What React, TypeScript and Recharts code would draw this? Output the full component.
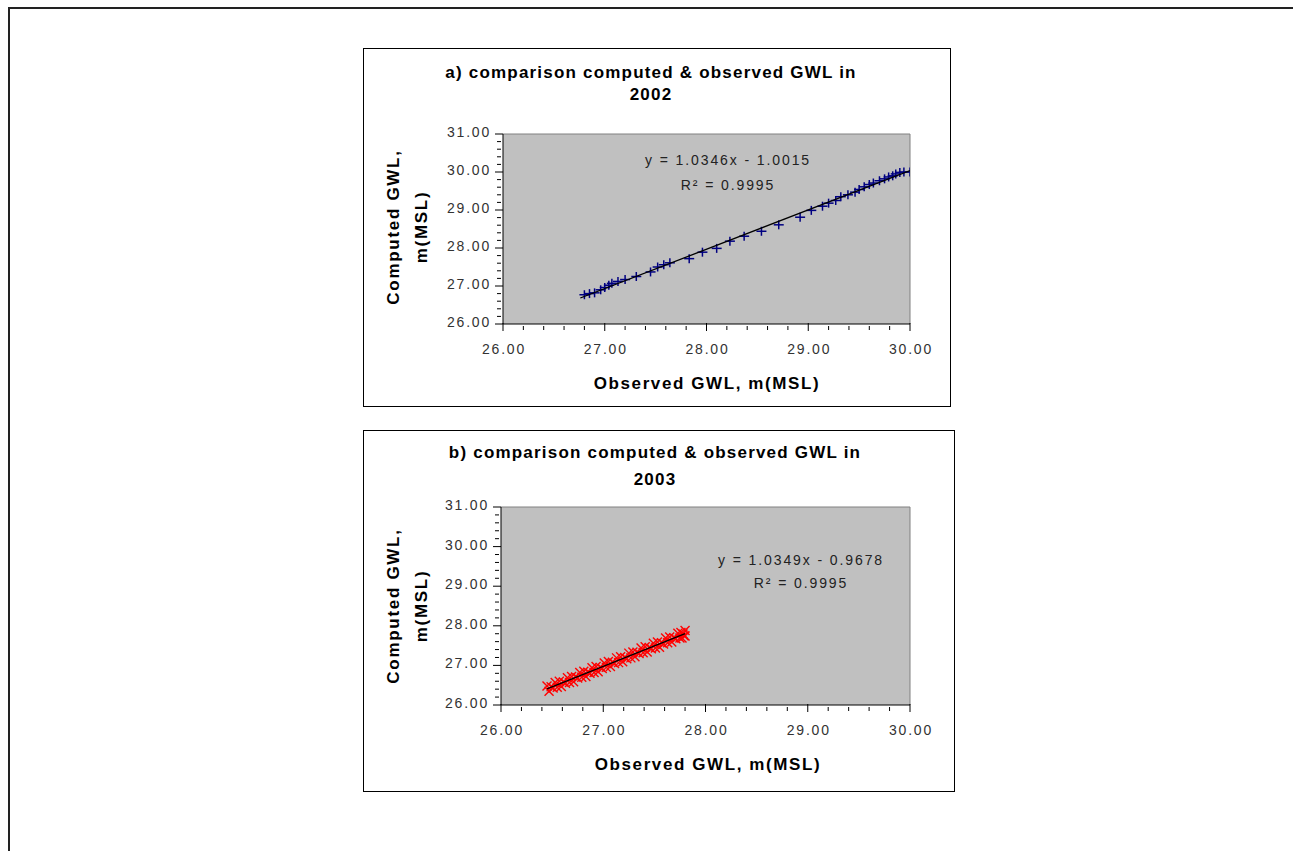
import { CartesianGrid, ReferenceLine, Scatter, ScatterChart, XAxis, YAxis } from 'recharts'

// 2002 observed vs computed groundwater level, m(MSL)
const OBSERVED_2002 = [
  26.8, 26.85, 26.9, 26.96, 27.0, 27.04, 27.07, 27.13, 27.2, 27.31, 27.45, 27.52, 27.58, 27.64,
  27.83, 27.96, 28.1, 28.23, 28.37, 28.54, 28.71, 28.92, 29.03, 29.14, 29.2, 29.27, 29.32, 29.39,
  29.46, 29.5, 29.55, 29.6, 29.64, 29.7, 29.75, 29.79, 29.83, 29.86, 29.9, 29.94, 30.0,
]
const COMPUTED_2002 = [
  26.77, 26.8, 26.82, 26.9, 26.96, 27.02, 27.07, 27.12, 27.17, 27.25, 27.37, 27.5, 27.56, 27.61,
  27.72, 27.89, 27.99, 28.18, 28.31, 28.44, 28.61, 28.81, 28.99, 29.1, 29.18, 29.25, 29.35, 29.4,
  29.47, 29.54, 29.61, 29.67, 29.71, 29.77, 29.82, 29.87, 29.9, 29.95, 29.99, 30.0, 30.0,
]

// 2003 observed vs computed groundwater level, m(MSL)
const OBSERVED_2003 = [
  26.45, 26.47, 26.49, 26.51, 26.53, 26.55, 26.57, 26.59, 26.61, 26.63, 26.65, 26.67, 26.69, 26.71,
  26.73, 26.75, 26.77, 26.79, 26.81, 26.83, 26.85, 26.87, 26.89, 26.91, 26.93, 26.95, 26.97, 26.99,
  27.01, 27.03, 27.05, 27.07, 27.09, 27.11, 27.13, 27.15, 27.17, 27.19, 27.21, 27.23, 27.25, 27.27,
  27.29, 27.31, 27.33, 27.35, 27.37, 27.39, 27.41, 27.43, 27.45, 27.47, 27.49, 27.51, 27.53, 27.55,
  27.57, 27.59, 27.61, 27.63, 27.65, 27.67, 27.69, 27.71, 27.73, 27.75, 27.76, 27.77, 27.78, 27.79,
  27.8, 27.8,
]
const COMPUTED_2003 = [
  26.48, 26.35, 26.46, 26.43, 26.57, 26.45, 26.6, 26.47, 26.58, 26.55, 26.69, 26.57, 26.72, 26.59,
  26.71, 26.68, 26.82, 26.7, 26.85, 26.72, 26.83, 26.8, 26.94, 26.82, 26.97, 26.84, 26.95, 26.92,
  27.06, 26.95, 27.1, 26.97, 27.08, 27.05, 27.19, 27.07, 27.22, 27.09, 27.2, 27.17, 27.31, 27.19,
  27.34, 27.22, 27.33, 27.3, 27.44, 27.32, 27.47, 27.34, 27.45, 27.42, 27.56, 27.44, 27.59, 27.46,
  27.57, 27.54, 27.69, 27.57, 27.72, 27.59, 27.7, 27.67, 27.81, 27.69, 27.83, 27.69, 27.79, 27.75,
  27.88, 27.74,
]

// linear trend lines: [slope, intercept, xStart, xEnd]
const TREND_2002 = [1.0346, -1.0015, 26.76, 30.0]
const TREND_2003 = [1.0349, -0.9678, 26.45, 27.8]

const X_TICKS = [
  26, 26.2, 26.4, 26.6, 26.8, 27, 27.2, 27.4, 27.6, 27.8, 28, 28.2, 28.4, 28.6, 28.8, 29, 29.2,
  29.4, 29.6, 29.8, 30,
]
const Y_TICKS = [
  26, 26.2, 26.4, 26.6, 26.8, 27, 27.2, 27.4, 27.6, 27.8, 28, 28.2, 28.4, 28.6, 28.8, 29, 29.2,
  29.4, 29.6, 29.8, 30, 30.2, 30.4, 30.6, 30.8, 31,
]

const FONT = '"Liberation Sans", Arial, sans-serif'
const TICK_STYLE = { fontFamily: FONT, fontSize: 14, letterSpacing: 1.8, fill: '#333' }

function toPoints(xs: number[], ys: number[]) {
  return xs.map((x, i) => ({ x, y: ys[i] }))
}

function trendSegment([slope, intercept, x1, x2]: number[]) {
  return [
    { x: x1, y: slope * x1 + intercept },
    { x: x2, y: slope * x2 + intercept },
  ]
}

function isMajor(value: number) {
  return Math.abs(value - Math.round(value)) < 0.001
}

function XTick({ x, y, payload }: any) {
  const major = isMajor(payload.value)
  return (
    <g>
      <line x1={x} x2={x} y1={major ? y - 3 : y} y2={y + (major ? 5 : 4)} stroke="#000" />
      {major && (
        <text x={x + 1} y={y + 28} textAnchor="middle" style={TICK_STYLE}>
          {payload.value.toFixed(2)}
        </text>
      )}
    </g>
  )
}

function YTick({ x, y, payload }: any) {
  const major = isMajor(payload.value)
  return (
    <g>
      <line x1={x - (major ? 6 : 4)} x2={major ? x + 2 : x} y1={y} y2={y} stroke="#000" />
      {major && (
        <text x={x - 10} y={y + 3} textAnchor="end" style={TICK_STYLE}>
          {payload.value.toFixed(2)}
        </text>
      )}
    </g>
  )
}

function PlusMarker({ cx, cy }: any) {
  return (
    <g stroke="#000080" strokeWidth={1.5}>
      <line x1={cx - 5} x2={cx + 5} y1={cy} y2={cy} />
      <line x1={cx} x2={cx} y1={cy - 4.5} y2={cy + 4.5} />
    </g>
  )
}

function CrossMarker({ cx, cy }: any) {
  return (
    <g stroke="#ff0000" strokeWidth={1.4}>
      <line x1={cx - 4.5} x2={cx + 4.5} y1={cy - 4.5} y2={cy + 4.5} />
      <line x1={cx - 4.5} x2={cx + 4.5} y1={cy + 4.5} y2={cy - 4.5} />
    </g>
  )
}

function NoMarker() {
  return <g />
}

function Text({ x, y, children, bold, size, spacing, rotate }: any) {
  return (
    <div
      style={{
        position: 'absolute',
        left: x,
        top: y,
        transform: `translate(-50%, -50%)${rotate ? ' rotate(-90deg)' : ''}`,
        whiteSpace: 'nowrap',
        fontFamily: FONT,
        fontWeight: bold ? 'bold' : 'normal',
        fontSize: size,
        letterSpacing: spacing,
        color: bold ? '#000' : '#222',
        lineHeight: 1,
      }}
    >
      {children}
    </div>
  )
}

type TPanel = {
  left: number
  top: number
  width: number
  height: number
  margin: { top: number; right: number; bottom: number; left: number }
  title: string
  year: string
  titleX: number
  titleY: [number, number]
  xLabelPos: [number, number]
  yLabelPos: [number, number]
  equation: string
  eqPos: [number, number, number]
  data: { x: number; y: number }[]
  trend: number[]
  shape: any
}

function Panel(p: TPanel) {
  return (
    <div
      style={{
        position: 'absolute',
        left: p.left,
        top: p.top,
        width: p.width,
        height: p.height,
        boxSizing: 'border-box',
        border: '1px solid #000',
        background: '#fff',
      }}
    >
      <div style={{ position: 'absolute', left: 0, top: 0 }}>
        <ScatterChart width={p.width - 2} height={p.height - 2} margin={p.margin}>
          <CartesianGrid fill="#c0c0c0" horizontal={false} vertical={false} />
          <ReferenceLine y={31} stroke="#808080" />
          <ReferenceLine x={30} stroke="#808080" />
          <XAxis
            type="number"
            dataKey="x"
            domain={[26, 30]}
            ticks={X_TICKS}
            interval={0}
            tick={<XTick />}
            tickLine={false}
            tickSize={0}
            axisLine={{ stroke: '#000' }}
            height={30}
            allowDataOverflow
          />
          <YAxis
            type="number"
            dataKey="y"
            domain={[26, 31]}
            ticks={Y_TICKS}
            interval={0}
            tick={<YTick />}
            tickLine={false}
            tickSize={0}
            axisLine={{ stroke: '#000' }}
            width={50}
            allowDataOverflow
          />
          <Scatter data={p.data} shape={p.shape} isAnimationActive={false} />
          <Scatter
            data={trendSegment(p.trend)}
            shape={NoMarker}
            line={{ stroke: '#000', strokeWidth: 1.3 }}
            isAnimationActive={false}
          />
        </ScatterChart>
      </div>
      <Text x={p.titleX} y={p.titleY[0]} bold size={17} spacing={1.2}>
        {p.title}
      </Text>
      <Text x={p.titleX} y={p.titleY[1]} bold size={17} spacing={1.2}>
        {p.year}
      </Text>
      <Text x={p.xLabelPos[0]} y={p.xLabelPos[1]} bold size={17} spacing={1.6}>
        Observed GWL, m(MSL)
      </Text>
      <Text x={p.yLabelPos[0]} y={p.yLabelPos[1]} bold size={17} spacing={1.7} rotate>
        Computed GWL,
      </Text>
      <Text x={p.yLabelPos[0] + 28} y={p.yLabelPos[1]} bold size={17} spacing={1.7} rotate>
        m(MSL)
      </Text>
      <Text x={p.eqPos[0]} y={p.eqPos[1]} size={14} spacing={1.9}>
        {p.equation}
      </Text>
      <Text x={p.eqPos[0]} y={p.eqPos[2]} size={14} spacing={1.9}>
        R² = 0.9995
      </Text>
    </div>
  )
}

export default function App() {
  return (
    <div style={{ position: 'fixed', inset: 0, overflow: 'hidden', background: '#fff' }}>
      <div
        style={{
          position: 'absolute',
          left: 8,
          top: 7,
          right: -10,
          bottom: -10,
          borderTop: '2px solid #222',
          borderLeft: '2px solid #222',
        }}
      />
      <Panel
        left={363}
        top={48}
        width={588}
        height={359}
        margin={{ top: 85, right: 40, bottom: 52, left: 89 }}
        title="a) comparison computed & observed GWL in"
        year="2002"
        titleX={287}
        titleY={[23, 45]}
        xLabelPos={[343, 334]}
        yLabelPos={[29, 178]}
        equation="y = 1.0346x - 1.0015"
        eqPos={[364, 111, 136]}
        data={toPoints(OBSERVED_2002, COMPUTED_2002)}
        trend={TREND_2002}
        shape={PlusMarker}
      />
      <Panel
        left={363}
        top={430}
        width={592}
        height={362}
        margin={{ top: 76, right: 44, bottom: 56, left: 87 }}
        title="b) comparison computed & observed GWL in"
        year="2003"
        titleX={291}
        titleY={[21, 48]}
        xLabelPos={[344, 333]}
        yLabelPos={[29, 175]}
        equation="y = 1.0349x - 0.9678"
        eqPos={[437, 129, 152]}
        data={toPoints(OBSERVED_2003, COMPUTED_2003)}
        trend={TREND_2003}
        shape={CrossMarker}
      />
    </div>
  )
}
